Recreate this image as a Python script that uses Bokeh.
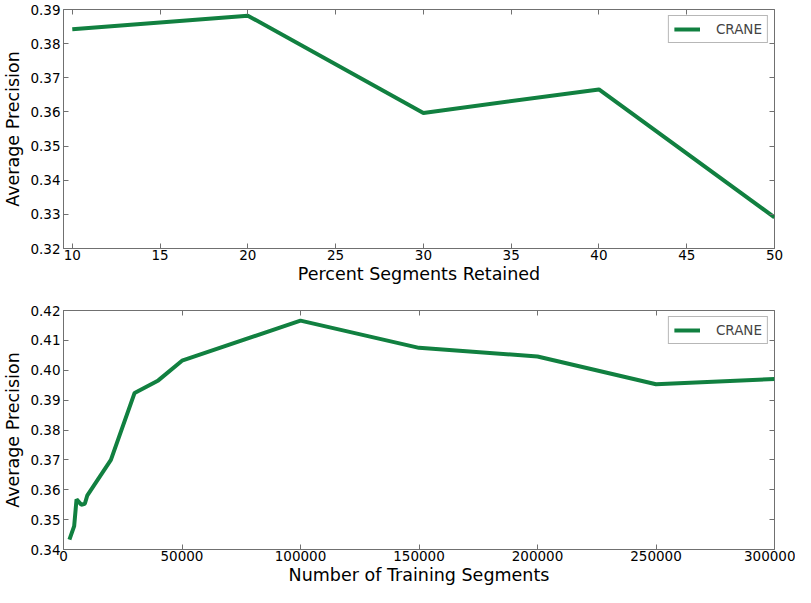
from bokeh.plotting import figure
from bokeh.layouts import column
from bokeh.models import LinearAxis, FixedTicker, NumeralTickFormatter, Range1d, Legend, LegendItem
from bokeh.embed import file_html
from bokeh.resources import INLINE

# --- data ---
pct_retained = [10, 20, 30, 40, 50]
ap_retained = [0.3842, 0.3882, 0.3597, 0.3666, 0.3291]

n_segments = [2500, 4500, 5500, 7500, 9000, 10000, 20000, 30000, 40000, 50000,
              100000, 150000, 200000, 250000, 300000]
ap_segments = [0.3433, 0.3478, 0.3568, 0.3550, 0.3553, 0.3580, 0.3700, 0.3924, 0.3966, 0.4032,
               0.4166, 0.4075, 0.4046, 0.3953, 0.3971]

top_xticks = [10, 15, 20, 25, 30, 35, 40, 45, 50]
top_yticks = [0.32, 0.33, 0.34, 0.35, 0.36, 0.37, 0.38, 0.39]
bot_xticks = [0, 50000, 100000, 150000, 200000, 250000, 300000]
bot_yticks = [0.34, 0.35, 0.36, 0.37, 0.38, 0.39, 0.40, 0.41, 0.42]

LINE = "#118040"
FRAME = "#707070"
FONT = "DejaVu Sans"
TICK_FS = "13.5px"
LABEL_FS = "17.5px"


def style_axis(ax, ticks, fmt, show_labels=True):
    ax.ticker = FixedTicker(ticks=ticks)
    ax.formatter = NumeralTickFormatter(format=fmt)
    ax.major_tick_in = 5
    ax.major_tick_out = 0
    ax.minor_tick_line_color = None
    ax.axis_line_color = FRAME
    ax.major_tick_line_color = FRAME
    ax.major_label_text_font = FONT
    ax.major_label_text_color = "#000000"
    ax.axis_label_text_font = FONT
    ax.axis_label_text_font_style = "normal"
    ax.axis_label_text_font_size = LABEL_FS
    ax.axis_label_text_color = "#000000"
    if show_labels:
        ax.major_label_text_font_size = TICK_FS
        ax.major_label_standoff = 1
    else:
        ax.major_label_text_font_size = "1px"
        ax.major_label_text_color = None
        ax.major_label_standoff = 0
        ax.axis_line_color = None


def make_fig(xs, ys, xr, yr, xticks, yticks, xfmt, yfmt, xlabel, height, top_border, bottom_border):
    p = figure(width=795, height=height, output_backend="svg", toolbar_location=None,
               x_range=Range1d(*xr), y_range=Range1d(*yr),
               x_axis_location=None, y_axis_location=None,
               min_border_left=59, min_border_right=21,
               min_border_top=top_border, min_border_bottom=bottom_border)
    p.grid.visible = False
    p.outline_line_color = FRAME
    p.outline_line_width = 1
    p.background_fill_color = "white"
    p.border_fill_color = "white"

    xb = LinearAxis(axis_label=xlabel)
    style_axis(xb, xticks, xfmt)
    xb.axis_label_standoff = 1
    p.add_layout(xb, "below")
    yl = LinearAxis(axis_label="Average Precision")
    style_axis(yl, yticks, yfmt)
    yl.major_label_standoff = 3
    yl.axis_label_standoff = 4
    p.add_layout(yl, "left")
    xt = LinearAxis()
    style_axis(xt, xticks, xfmt, show_labels=False)
    p.add_layout(xt, "above")
    yr_ax = LinearAxis()
    style_axis(yr_ax, yticks, yfmt, show_labels=False)
    p.add_layout(yr_ax, "right")

    r = p.line(xs, ys, line_color=LINE, line_width=4)
    leg = Legend(items=[LegendItem(label="CRANE", renderers=[r])], location="top_right")
    leg.margin = 6
    leg.padding = 5
    leg.glyph_width = 26
    leg.glyph_height = 12
    leg.label_standoff = 16
    leg.label_text_font = FONT
    leg.label_text_font_size = TICK_FS
    leg.border_line_color = FRAME
    leg.border_line_width = 1
    leg.background_fill_alpha = 1
    p.add_layout(leg, "center")
    return p


p1 = make_fig(pct_retained, ap_retained, (9.5, 50), (0.32, 0.39), top_xticks, top_yticks,
              "0", "0.00", "Percent Segments Retained", 290, 9, 42)
p2 = make_fig(n_segments, ap_segments, (0, 300000), (0.34, 0.42), bot_xticks, bot_yticks,
              "0", "0.00", "Number of Training Segments", 297, 20, 36)

layout = column(p1, p2, spacing=0)
open("out.html", "w").write(file_html(layout, INLINE))
